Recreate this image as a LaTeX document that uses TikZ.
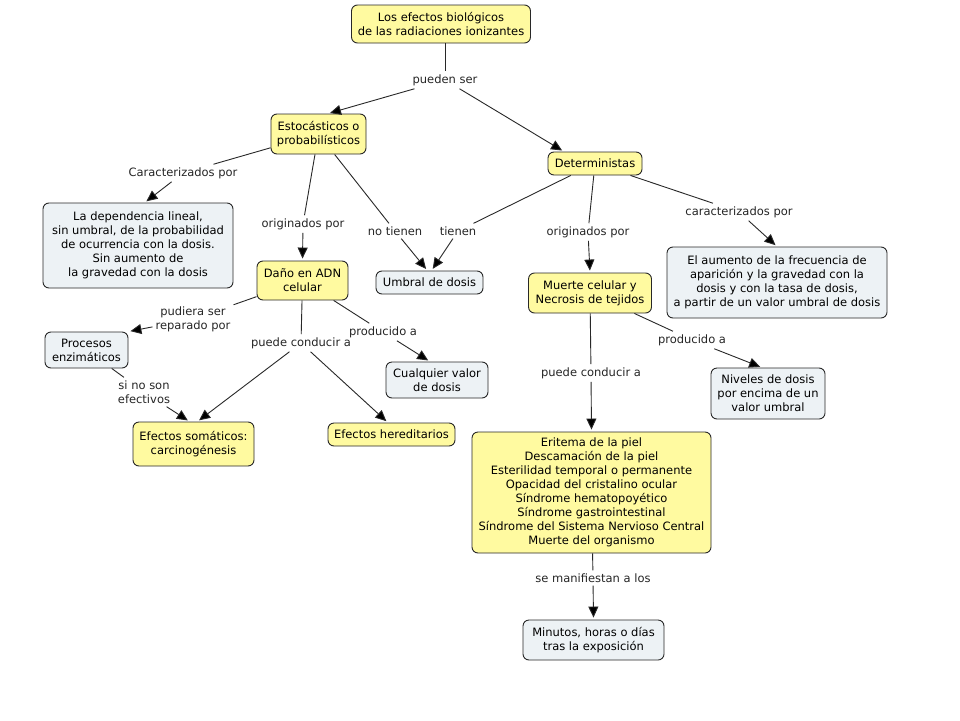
\documentclass[tikz,border=0pt]{standalone}
\usepackage{fontspec}
\setmainfont{DejaVu Sans}
\usetikzlibrary{arrows.meta}
\definecolor{cmapyellow}{RGB}{255,250,160}
\definecolor{cmapgrey}{RGB}{237,242,245}
\definecolor{cmapline}{RGB}{40,40,40}
\tikzset{
  concept/.style={shape=rectangle, rounded corners=6pt, draw=cmapline, line width=0.9pt,
    align=center, inner sep=2pt, font=\fontsize{11.5}{14}\selectfont},
  yellowbox/.style={concept, fill=cmapyellow},
  greybox/.style={concept, fill=cmapgrey},
  phrase/.style={align=center, inner sep=3pt, font=\fontsize{11.5}{14}\selectfont, text=black!85},
  link/.style={-, line width=0.9pt, draw=cmapline},
  linkarrow/.style={-{Triangle[length=11pt,width=10pt]}, line width=0.9pt, draw=cmapline, shorten >=2pt}
}
\begin{document}
\begin{tikzpicture}[x=1pt, y=-1pt]
\useasboundingbox[fill=white] (0,0) rectangle (960,720);
% concepts
\node[yellowbox, minimum width=179pt, minimum height=38pt] (efectos) at (441,24) {Los efectos biológicos\\de las radiaciones ionizantes};
\node[yellowbox, minimum width=95pt, minimum height=40pt] (estoc) at (318.5,134) {Estocásticos o\\probabilísticos};
\node[yellowbox, minimum width=94pt, minimum height=23pt] (determ) at (595,163.5) {Deterministas};
\node[greybox, minimum width=190pt, minimum height=85pt] (dependencia) at (138,245.5) {La dependencia lineal,\\sin umbral, de la probabilidad\\de ocurrencia con la dosis.\\Sin aumento de\\la gravedad con la dosis};
\node[yellowbox, minimum width=91pt, minimum height=39pt] (dano) at (302.5,280.5) {Daño en ADN\\celular};
\node[greybox, minimum width=107pt, minimum height=23pt] (umbral) at (429.5,282.5) {Umbral de dosis};
\node[yellowbox, minimum width=123pt, minimum height=40pt] (muerte) at (590,293) {Muerte celular y\\Necrosis de tejidos};
\node[greybox, minimum width=220pt, minimum height=71pt] (aumento) at (777,282.5) {El aumento de la frecuencia de\\aparición y la gravedad con la\\dosis y con la tasa de dosis,\\a partir de un valor umbral de dosis};
\node[greybox, minimum width=83pt, minimum height=36pt] (procesos) at (86.5,350) {Procesos\\enzimáticos};
\node[yellowbox, minimum width=121pt, minimum height=44pt] (somaticos) at (193.5,444) {Efectos somáticos:\\carcinogénesis};
\node[yellowbox, minimum width=127pt, minimum height=23pt] (hereditarios) at (391.5,434.5) {Efectos hereditarios};
\node[greybox, minimum width=102pt, minimum height=36pt] (cualquier) at (437,380) {Cualquier valor\\de dosis};
\node[greybox, minimum width=114pt, minimum height=51pt] (niveles) at (768,393.5) {Niveles de dosis\\por encima de un\\valor umbral};
\node[yellowbox, minimum width=239pt, minimum height=121pt] (eritema) at (591.5,492.5) {Eritema de la piel\\Descamación de la piel\\Esterilidad temporal o permanente\\Opacidad del cristalino ocular\\Síndrome hematopoyético\\Síndrome gastrointestinal\\Síndrome del Sistema Nervioso Central\\Muerte del organismo};
\node[greybox, minimum width=141pt, minimum height=40pt] (minutos) at (593.5,640) {Minutos, horas o días\\tras la exposición};
% linking phrases
\node[phrase] (lpueden) at (445,80) {pueden ser};
\node[phrase] (lcaract) at (183,173) {Caracterizados por};
\node[phrase] (lorig1) at (303,224) {originados por};
\node[phrase] (lnotienen) at (395,231) {no tienen};
\node[phrase] (ltienen) at (458,231) {tienen};
\node[phrase] (lorig2) at (588,232) {originados por};
\node[phrase] (lcaract2) at (739,212) {caracterizados por};
\node[phrase] (lpudiera) at (193,319) {pudiera ser\\reparado por};
\node[phrase] (lsino) at (144,392) {si no son\\efectivos};
\node[phrase] (lconducir1) at (301,343) {puede conducir a};
\node[phrase] (lproducido1) at (383,332) {producido a};
\node[phrase] (lproducido2) at (692,340) {producido a};
\node[phrase] (lconducir2) at (591,373) {puede conducir a};
\node[phrase] (lmanif) at (593,578) {se manifiestan a los};
% connectors
\path[link] (efectos.south -| lpueden) edge (lpueden);
\path[linkarrow] (lpueden) edge (estoc.65);
\path[linkarrow] (lpueden) edge (determ.159);
\path[link] (estoc) edge (lcaract);
\path[linkarrow] (lcaract) edge (dependencia.81);
\path[link] (estoc) edge (lorig1);
\path[linkarrow] (lorig1) edge (dano.north);
\path[link] (estoc) edge (lnotienen);
\path[linkarrow] (lnotienen) edge (umbral.100);
\path[link] (determ) edge (ltienen);
\path[linkarrow] (ltienen) edge (umbral.80);
\path[link] (determ) edge (lorig2);
\path[linkarrow] (lorig2) edge (muerte.north);
\path[link] (determ) edge (lcaract2);
\path[linkarrow] (lcaract2) edge (aumento.north);
\path[link] (dano) edge (lpudiera);
\path[linkarrow] (lpudiera) edge (procesos.north east);
\path[link] (procesos) edge (lsino);
\path[linkarrow] (lsino) edge (somaticos.100);
\path[link] (dano) edge (lconducir1);
\path[linkarrow] (lconducir1) edge (somaticos.80);
\path[linkarrow] (lconducir1) edge (hereditarios.107);
\path[link] (dano) edge (lproducido1);
\path[linkarrow] (lproducido1) edge (cualquier.111);
\path[link] (muerte) edge (lproducido2);
\path[linkarrow] (lproducido2) edge (niveles.103);
\path[link] (muerte) edge (lconducir2);
\path[linkarrow] (lconducir2) edge (eritema.north);
\path[link] (eritema) edge (lmanif);
\path[linkarrow] (lmanif) edge (minutos.north);
\end{tikzpicture}
\end{document}
